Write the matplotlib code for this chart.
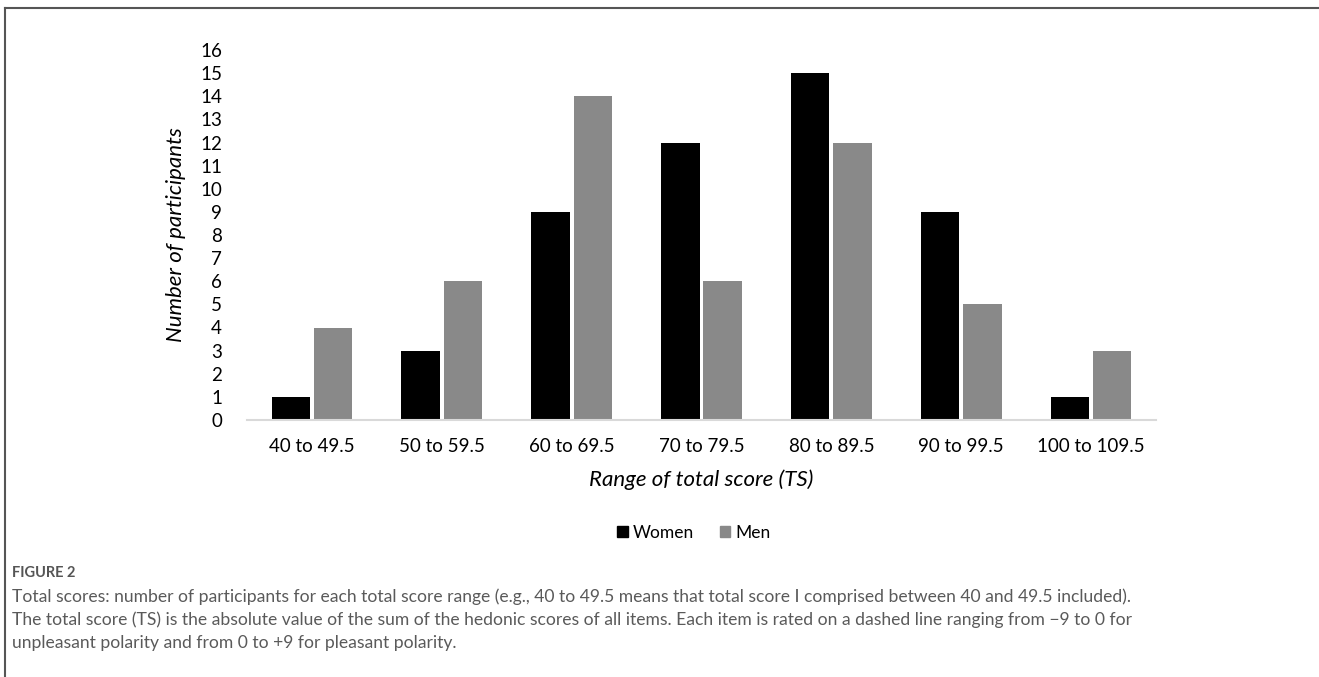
import matplotlib
matplotlib.use('Agg')
import numpy as np
import matplotlib.pyplot as plt
import matplotlib.patches as mpatches
from matplotlib.lines import Line2D

# Data
categories = ['40 to 49.5', '50 to 59.5', '60 to 69.5', '70 to 79.5',
              '80 to 89.5', '90 to 99.5', '100 to 109.5']
women = [1, 3, 9, 12, 15, 9, 1]
men = [4, 6, 14, 6, 12, 5, 3]
yticks = list(range(0, 17))

caption_title = 'FIGURE 2'
caption_lines = [
    'Total scores: number of participants for each total score range (e.g., 40 to 49.5 means that total score I comprised between 40 and 49.5 included).',
    'The total score (TS) is the absolute value of the sum of the hedonic scores of all items. Each item is rated on a dashed line ranging from \u22129 to 0 for',
    'unpleasant polarity and from 0 to +9 for pleasant polarity.',
]

plt.rcParams['font.family'] = ['Lato', 'DejaVu Sans']

W, H = 1319, 677
fig = plt.figure(figsize=(W / 100, H / 100), dpi=100)
ax = fig.add_axes([247 / W, (H - 420) / H, (1156 - 247) / W, (420 - 50) / H])

x = np.arange(len(categories))
bw = 0.296
off = 0.163
ax.bar(x - off, women, width=bw, color='#000000', label='Women')
ax.bar(x + off, men, width=bw, color='#898989', label='Men')

ax.set_xlim(-0.5, len(categories) - 0.5)
ax.set_ylim(0, 16)
ax.set_yticks(yticks)
ax.set_yticklabels([str(t) for t in yticks], fontsize=13.5)
ax.set_xticks(x)
ax.set_xticklabels(categories, fontsize=13.5)
ax.tick_params(axis='y', length=0, pad=18)
ax.tick_params(axis='x', length=0, pad=13)

for s in ['top', 'right', 'left']:
    ax.spines[s].set_visible(False)
ax.spines['bottom'].set_color('#d9d9d9')
ax.spines['bottom'].set_linewidth(1.5)

ax.set_ylabel('Number of participants', fontsize=16, style='italic', labelpad=10)
ax.set_xlabel('Range of total score (TS)', fontsize=16, style='italic', labelpad=10)

handles = [mpatches.Patch(color='#000000', label='Women'),
           mpatches.Patch(color='#898989', label='Men')]
fig.legend(handles=handles, loc='center', bbox_to_anchor=(694 / W, (H - 533) / H),
           ncol=2, frameon=False, fontsize=12.5, handlelength=0.6, handleheight=0.6,
           handletextpad=0.3, columnspacing=1.5)

# Caption
fig.text(12 / W, (H - 573) / H, caption_title, fontsize=10.5, color='#555555',
         fontweight='bold', va='center', ha='left')
for i, line in enumerate(caption_lines):
    fig.text(12 / W, (H - 597 - 23 * i) / H, line, fontsize=12.6, color='#5a5a5a',
             va='center', ha='left')

# Border (top and left)
fig.add_artist(Line2D([5 / W, 5 / W], [0, (H - 8) / H], transform=fig.transFigure,
                      color='#555555', linewidth=1.5))
fig.add_artist(Line2D([5 / W, 1], [(H - 8) / H, (H - 8) / H], transform=fig.transFigure,
                      color='#555555', linewidth=1.5))

fig.savefig('out.png', dpi=100)
